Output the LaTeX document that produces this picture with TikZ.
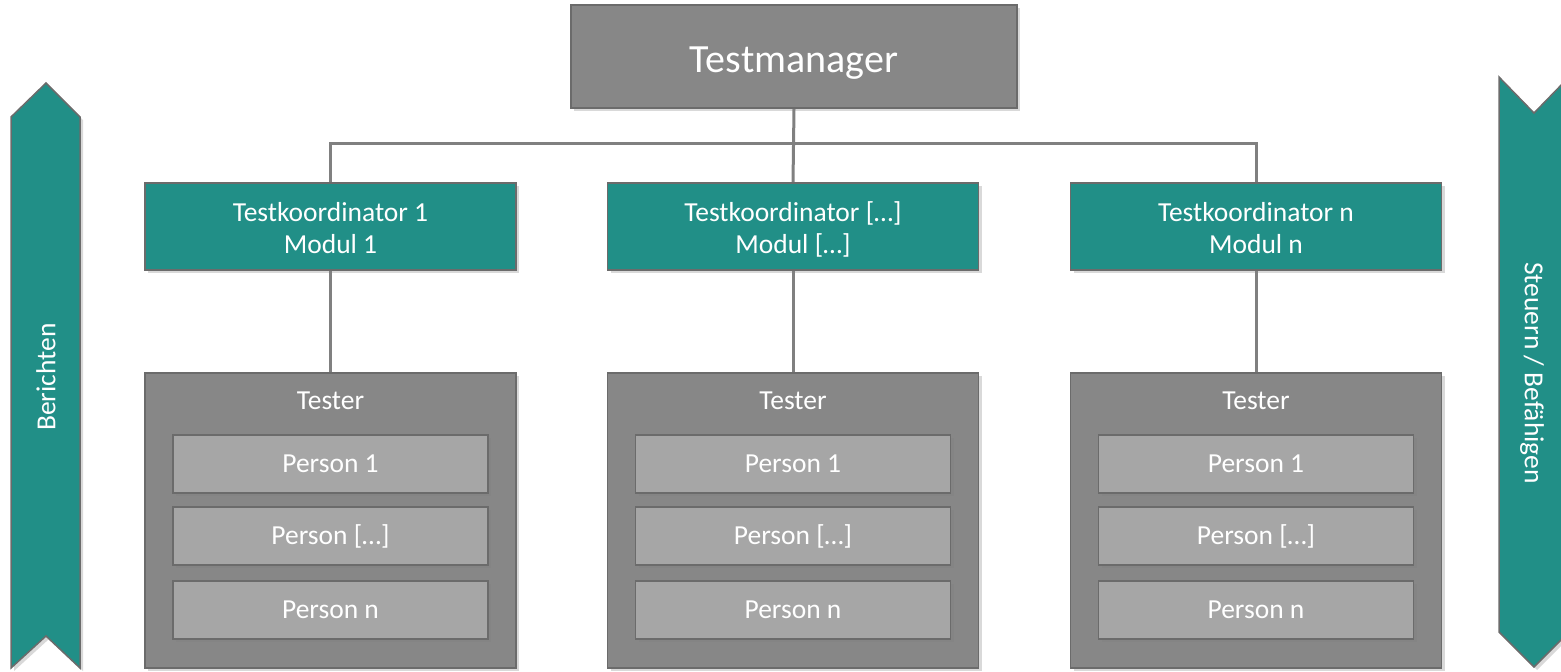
\documentclass[tikz,border=0pt]{standalone}
\usepackage{fontspec}
\setmainfont{Carlito}
\usetikzlibrary{shadows,backgrounds}
\definecolor{tealbox}{HTML}{218F87}
\definecolor{darkbox}{HTML}{878787}
\definecolor{lightbox}{HTML}{A6A6A6}
\definecolor{edgegray}{HTML}{6B6B6B}
\definecolor{linegray}{HTML}{808080}
\tikzset{
  myshadow/.style={drop shadow={opacity=0.3, shadow xshift=3pt, shadow yshift=-3pt}},
  basebox/.style={draw=edgegray, line width=1.5pt, inner sep=0pt, text=white, align=center,
    font=\fontsize{27.5}{32}\selectfont, myshadow},
  mgrbox/.style={basebox, fill=darkbox, minimum width=446pt, minimum height=103pt,
    font=\fontsize{40}{46}\selectfont, text height=36pt, text depth=5pt},
  coordbox/.style={basebox, fill=tealbox, minimum width=371pt, minimum height=87pt,
    text height=56pt, text depth=3pt},
  testerbox/.style={basebox, fill=darkbox, minimum width=371pt, minimum height=295pt},
  personbox/.style={basebox, fill=lightbox, minimum width=315pt, minimum height=58pt},
  lbl/.style={text=white, inner sep=0pt, font=\fontsize{27.5}{32}\selectfont},
  conn/.style={draw=linegray, line width=3pt},
  ribbon/.style={fill=tealbox, draw=edgegray, line width=1.5pt, line join=miter, myshadow}
}
\begin{document}
\begin{tikzpicture}[x=1pt,y=-1pt]
\useasboundingbox (0,0) rectangle (1561,672);
\clip (0,0) rectangle (1561,672);

% ribbons
\path[ribbon] (11,117) -- (46,83) -- (80,117) -- (80,668) -- (46,636) -- (11,668) -- cycle;
\path[ribbon] (1499,77) -- (1534,113) -- (1569,77) -- (1569,632) -- (1534,667) -- (1499,632) -- cycle;
\node[lbl, rotate=90] (ber) at (46,377) {Berichten};
\node[lbl, rotate=-90] (steu) at (1532,373) {Steuern / Befähigen};

% manager
\node[mgrbox] (tm) at (794,56.5) {Testmanager};

% columns
\node[coordbox] (c1) at (330.5,226.5) {Testkoordinator 1\\Modul 1};
\node[coordbox] (c2) at (793,226.5) {Testkoordinator […]\\Modul […]};
\node[coordbox] (c3) at (1256,226.5) {Testkoordinator n\\Modul n};
\foreach \i/\cx in {1/330.5, 2/793, 3/1256}{
  \node[testerbox] (t\i) at (\cx,520.5) {};
  \node[lbl] (tl\i) at (\cx,401) {Tester};
  \node[personbox] (p\i a) at (\cx,464) {Person 1};
  \node[personbox] (p\i b) at (\cx,536) {Person […]};
  \node[personbox] (p\i c) at (\cx,610) {Person n};
}

% connectors (behind boxes)
\begin{scope}[on background layer]
\draw[conn] (tm.south) -- (c2.north);
\draw[conn] (c1.north) -- ++(0,-39) -| (c3.north);
\draw[conn] (c1.south) -- (t1.north);
\draw[conn] (c2.south) -- (t2.north);
\draw[conn] (c3.south) -- (t3.north);
\end{scope}
\end{tikzpicture}
\end{document}
